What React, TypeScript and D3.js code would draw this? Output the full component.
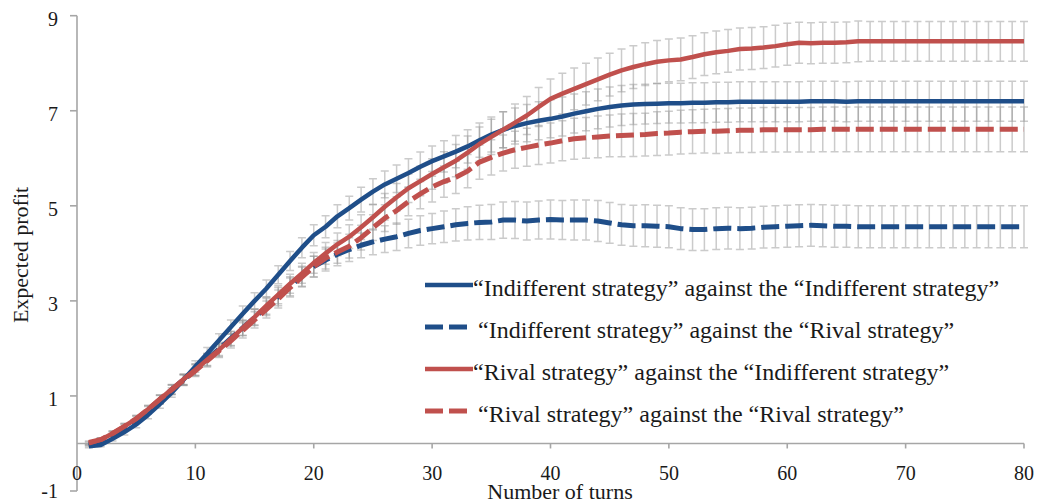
import React from "react";
import * as d3 from "d3";

// Expected profit per turn (turns 1..80) for the four strategy pairings
const indiffVsIndiff = [
  -0.06, -0.03, 0.10, 0.24, 0.40, 0.60, 0.83, 1.07, 1.34, 1.62,
  1.89, 2.17, 2.45, 2.73, 3.00, 3.26, 3.55, 3.84, 4.12, 4.38,
  4.56, 4.78, 4.95, 5.13, 5.30, 5.45, 5.57, 5.69, 5.82, 5.94,
  6.04, 6.14, 6.25, 6.38, 6.50, 6.60, 6.68, 6.74, 6.79, 6.83,
  6.88, 6.94, 6.99, 7.04, 7.08, 7.11, 7.13, 7.14, 7.15, 7.16,
  7.16, 7.17, 7.17, 7.18, 7.18, 7.19, 7.19, 7.19, 7.19, 7.19,
  7.19, 7.20, 7.20, 7.20, 7.19, 7.20, 7.20, 7.20, 7.20, 7.20,
  7.20, 7.20, 7.20, 7.20, 7.20, 7.20, 7.20, 7.20, 7.20, 7.20,
];
const indiffVsRival = [
  -0.03, 0.04, 0.19, 0.34, 0.50, 0.70, 0.92, 1.13, 1.34, 1.55,
  1.77, 1.99, 2.21, 2.43, 2.65, 2.87, 3.09, 3.31, 3.52, 3.72,
  3.86, 3.98, 4.08, 4.17, 4.24, 4.30, 4.35, 4.42, 4.48, 4.52,
  4.56, 4.60, 4.63, 4.65, 4.66, 4.70, 4.70, 4.68, 4.70, 4.71,
  4.70, 4.70, 4.70, 4.68, 4.64, 4.60, 4.58, 4.58, 4.57, 4.56,
  4.52, 4.50, 4.50, 4.52, 4.53, 4.52, 4.53, 4.55, 4.56, 4.57,
  4.58, 4.59, 4.58, 4.57, 4.57, 4.56, 4.56, 4.56, 4.56, 4.56,
  4.56, 4.56, 4.56, 4.56, 4.56, 4.56, 4.56, 4.56, 4.56, 4.56,
];
const rivalVsIndiff = [
  0.00, 0.08, 0.21, 0.36, 0.52, 0.72, 0.93, 1.14, 1.35, 1.55,
  1.76, 1.97, 2.20, 2.43, 2.66, 2.90, 3.13, 3.36, 3.58, 3.80,
  4.00, 4.19, 4.35, 4.55, 4.76, 4.98, 5.18, 5.37, 5.52, 5.67,
  5.81, 5.95, 6.12, 6.30, 6.45, 6.60, 6.75, 6.90, 7.08, 7.25,
  7.36, 7.46, 7.56, 7.66, 7.76, 7.85, 7.92, 7.98, 8.03, 8.06,
  8.08, 8.13, 8.19, 8.23, 8.26, 8.30, 8.31, 8.33, 8.36, 8.40,
  8.43, 8.42, 8.43, 8.43, 8.44, 8.46, 8.46, 8.46, 8.46, 8.46,
  8.46, 8.46, 8.46, 8.46, 8.46, 8.46, 8.46, 8.46, 8.46, 8.46,
];
const rivalVsRival = [
  0.02, 0.08, 0.21, 0.36, 0.52, 0.72, 0.93, 1.13, 1.33, 1.53,
  1.74, 1.95, 2.16, 2.38, 2.60, 2.82, 3.04, 3.28, 3.50, 3.72,
  3.90, 4.03, 4.15, 4.33, 4.54, 4.74, 4.90, 5.09, 5.25, 5.40,
  5.51, 5.60, 5.73, 5.92, 6.02, 6.11, 6.18, 6.23, 6.28, 6.32,
  6.37, 6.41, 6.43, 6.45, 6.47, 6.48, 6.49, 6.50, 6.52, 6.53,
  6.55, 6.56, 6.57, 6.57, 6.58, 6.59, 6.59, 6.60, 6.60, 6.60,
  6.60, 6.60, 6.61, 6.61, 6.61, 6.61, 6.61, 6.61, 6.61, 6.61,
  6.61, 6.61, 6.61, 6.61, 6.61, 6.61, 6.61, 6.61, 6.61, 6.61,
];

// Half-widths of the error bars, per turn
const errIndiffVsIndiff = [
  0.03, 0.04, 0.05, 0.06, 0.07, 0.08, 0.09, 0.10, 0.11, 0.12,
  0.13, 0.14, 0.15, 0.16, 0.17, 0.18, 0.19, 0.20, 0.21, 0.22,
  0.23, 0.24, 0.25, 0.26, 0.27, 0.28, 0.29, 0.30, 0.31, 0.32,
  0.33, 0.34, 0.35, 0.36, 0.37, 0.38, 0.38, 0.39, 0.40, 0.40,
  0.41, 0.41, 0.41, 0.42, 0.42, 0.42, 0.42, 0.42, 0.42, 0.42,
  0.42, 0.42, 0.42, 0.42, 0.42, 0.42, 0.42, 0.42, 0.42, 0.42,
  0.42, 0.42, 0.42, 0.42, 0.42, 0.42, 0.42, 0.42, 0.42, 0.42,
  0.42, 0.42, 0.42, 0.42, 0.42, 0.42, 0.42, 0.42, 0.42, 0.42,
];
const errIndiffVsRival = [
  0.03, 0.04, 0.05, 0.06, 0.07, 0.08, 0.09, 0.10, 0.11, 0.12,
  0.13, 0.14, 0.15, 0.16, 0.17, 0.18, 0.19, 0.20, 0.21, 0.22,
  0.23, 0.24, 0.25, 0.26, 0.27, 0.28, 0.29, 0.30, 0.31, 0.32,
  0.33, 0.34, 0.35, 0.36, 0.37, 0.38, 0.39, 0.40, 0.40, 0.41,
  0.41, 0.42, 0.42, 0.43, 0.43, 0.43, 0.43, 0.44, 0.44, 0.44,
  0.44, 0.44, 0.44, 0.44, 0.44, 0.44, 0.44, 0.44, 0.44, 0.44,
  0.44, 0.44, 0.44, 0.44, 0.44, 0.44, 0.44, 0.44, 0.44, 0.44,
  0.44, 0.44, 0.44, 0.44, 0.44, 0.44, 0.44, 0.44, 0.44, 0.44,
];
const errRivalVsIndiff = [
  0.03, 0.04, 0.05, 0.06, 0.07, 0.08, 0.09, 0.10, 0.11, 0.12,
  0.13, 0.14, 0.15, 0.16, 0.17, 0.18, 0.19, 0.20, 0.21, 0.22,
  0.23, 0.24, 0.25, 0.26, 0.27, 0.28, 0.29, 0.30, 0.31, 0.32,
  0.33, 0.34, 0.35, 0.36, 0.37, 0.38, 0.39, 0.40, 0.41, 0.42,
  0.43, 0.44, 0.44, 0.45, 0.45, 0.45, 0.45, 0.45, 0.45, 0.45,
  0.45, 0.45, 0.45, 0.45, 0.45, 0.44, 0.44, 0.44, 0.44, 0.44,
  0.43, 0.43, 0.43, 0.43, 0.43, 0.43, 0.42, 0.42, 0.42, 0.42,
  0.42, 0.42, 0.42, 0.42, 0.42, 0.42, 0.42, 0.42, 0.42, 0.42,
];
const errRivalVsRival = [
  0.03, 0.04, 0.05, 0.06, 0.07, 0.08, 0.09, 0.10, 0.11, 0.12,
  0.13, 0.14, 0.15, 0.16, 0.17, 0.18, 0.19, 0.20, 0.21, 0.22,
  0.23, 0.24, 0.25, 0.26, 0.27, 0.28, 0.29, 0.30, 0.31, 0.32,
  0.33, 0.34, 0.35, 0.36, 0.37, 0.38, 0.39, 0.40, 0.41, 0.42,
  0.42, 0.43, 0.43, 0.44, 0.44, 0.45, 0.45, 0.45, 0.46, 0.46,
  0.46, 0.46, 0.46, 0.47, 0.47, 0.47, 0.47, 0.47, 0.47, 0.47,
  0.47, 0.47, 0.47, 0.47, 0.47, 0.47, 0.47, 0.47, 0.47, 0.47,
  0.47, 0.47, 0.47, 0.47, 0.47, 0.47, 0.47, 0.47, 0.47, 0.47,
];

const xTicks = [0, 10, 20, 30, 40, 50, 60, 70, 80];
const yTicks = [-1, 1, 3, 5, 7, 9];

const legendLabels = [
  "\u201CIndifferent strategy\u201D against the \u201CIndifferent strategy\u201D",
  "\u201CIndifferent strategy\u201D against the \u201CRival strategy\u201D",
  "\u201CRival strategy\u201D against the \u201CIndifferent strategy\u201D",
  "\u201CRival strategy\u201D against the \u201CRival strategy\u201D",
];

const BLUE = "#1f4e89";
const RED = "#c0504d";
const AXIS = "#a6a6a6";
const FONT = "'Liberation Serif', 'Times New Roman', serif";

const turns = d3.range(1, 81);

const series = [
  { label: legendLabels[0], values: indiffVsIndiff, err: errIndiffVsIndiff, color: BLUE, dashed: false },
  { label: legendLabels[1], values: indiffVsRival, err: errIndiffVsRival, color: BLUE, dashed: true },
  { label: legendLabels[2], values: rivalVsIndiff, err: errRivalVsIndiff, color: RED, dashed: false },
  { label: legendLabels[3], values: rivalVsRival, err: errRivalVsRival, color: RED, dashed: true },
];

export default function App() {
  const width = 1038;
  const height = 503;
  const x = d3.scaleLinear().domain([0, 80]).range([77, 1024]);
  const y = d3.scaleLinear().domain([-1, 9]).range([491, 15.7]);

  const line = d3
    .line<number>()
    .x((_, i) => x(turns[i]))
    .y((v) => y(v));

  const capHalf = 4;
  const legendX = 425;
  const legendRows = [285, 327, 369, 411];

  return (
    <svg
      width={width}
      height={height}
      style={{ position: "absolute", left: 0, top: 0, background: "#fff" }}
      fontFamily={FONT}
    >
      {/* error bars */}
      <g stroke="#8c8c8c" strokeOpacity={0.45} strokeWidth={1.5} fill="none">
        {series.map((s, si) =>
          s.values.map((v, i) => {
            const cx = x(turns[i]);
            const top = y(v + s.err[i]);
            const bot = y(v - s.err[i]);
            return (
              <path
                key={`${si}-${i}`}
                d={`M${cx},${top}V${bot}M${cx - capHalf},${top}H${cx + capHalf}M${cx - capHalf},${bot}H${cx + capHalf}`}
              />
            );
          })
        )}
      </g>

      {/* axes */}
      <g stroke={AXIS} strokeWidth={1.6} fill="none">
        <line x1={x(0)} x2={x(0)} y1={y(-1)} y2={y(9)} />
        {yTicks.map((t) => (
          <line key={t} x1={x(0) - 7} x2={x(0)} y1={y(t)} y2={y(t)} />
        ))}
        <line x1={x(0)} x2={x(80)} y1={y(0)} y2={y(0)} />
        {xTicks.filter((t) => t > 0).map((t) => (
          <line key={t} x1={x(t)} x2={x(t)} y1={y(0)} y2={y(0) + 5} />
        ))}
      </g>

      {/* series lines */}
      {series.map((s, si) => (
        <path
          key={si}
          d={line(s.values) || ""}
          fill="none"
          stroke={s.color}
          strokeWidth={s.dashed ? 5 : 4.5}
          strokeDasharray={s.dashed ? "18,6" : undefined}
          strokeLinejoin="round"
        />
      ))}

      {/* tick labels */}
      <g fill="#1a1a1a" fontSize={20}>
        {yTicks.map((t) => (
          <text key={t} x={58} y={Math.min(y(t) + 10, 498)} textAnchor="end">
            {t}
          </text>
        ))}
        {xTicks.map((t) => (
          <text key={t} x={x(t)} y={480} textAnchor="middle">
            {t}
          </text>
        ))}
      </g>

      {/* axis titles */}
      <text x={560} y={499} textAnchor="middle" fontSize={22} fill="#1a1a1a">
        Number of turns
      </text>
      <text
        transform={`translate(28, 255) rotate(-90)`}
        textAnchor="middle"
        fontSize={22}
        fill="#1a1a1a"
      >
        Expected profit
      </text>

      {/* legend */}
      {series.map((s, si) => {
        const ly = legendRows[si];
        return (
          <g key={si}>
            {s.dashed ? (
              <>
                <line x1={legendX} x2={legendX + 18} y1={ly} y2={ly} stroke={s.color} strokeWidth={5} />
                <line x1={legendX + 24} x2={legendX + 42} y1={ly} y2={ly} stroke={s.color} strokeWidth={5} />
              </>
            ) : (
              <line x1={legendX} x2={legendX + 48} y1={ly} y2={ly} stroke={s.color} strokeWidth={4.5} />
            )}
            <text x={s.dashed ? 478 : 473} y={ly + 11} fontSize={24} fill="#1a1a1a">
              {s.label}
            </text>
          </g>
        );
      })}
    </svg>
  );
}
